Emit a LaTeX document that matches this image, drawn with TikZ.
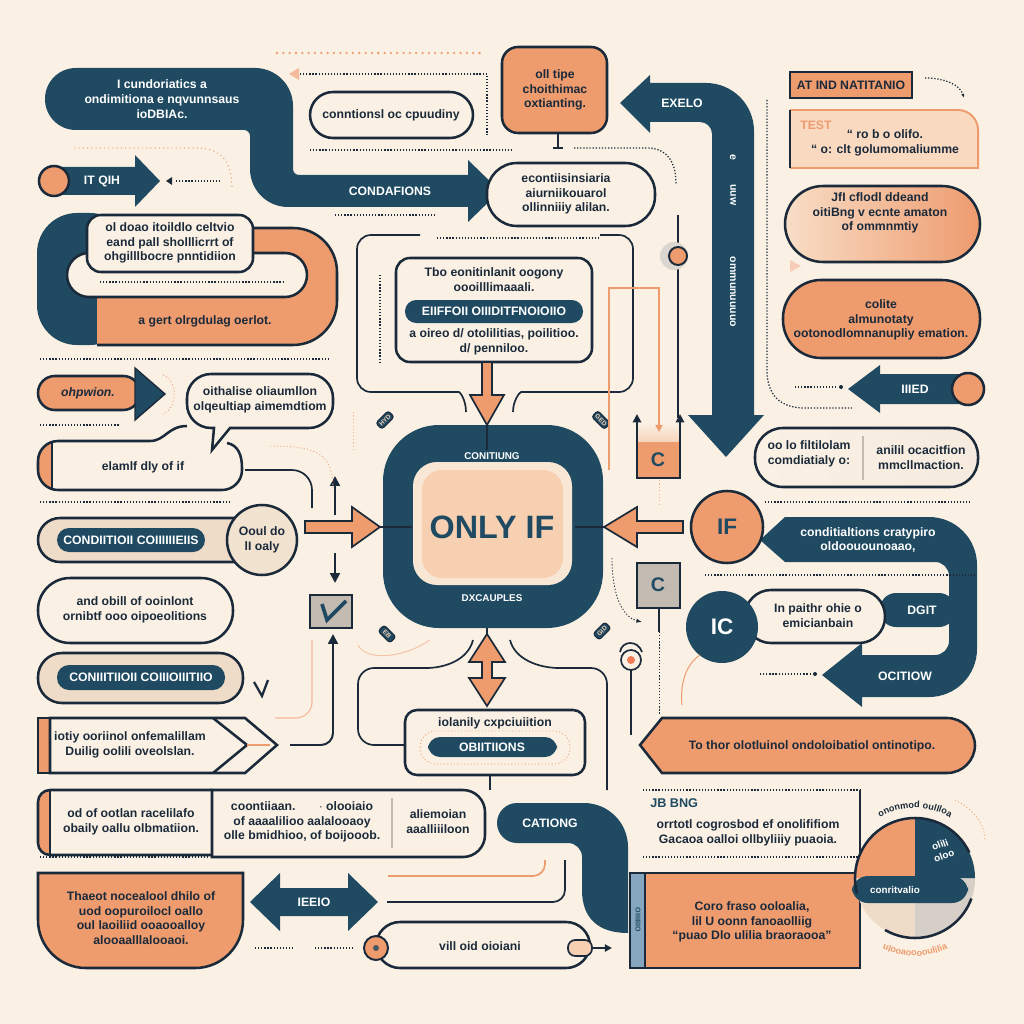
\documentclass[tikz,border=0pt]{standalone}
\usepackage{fontspec}
\setmainfont{Liberation Sans}
\usepackage{xcolor}
\definecolor{colCream}{HTML}{FAF1E4}
\definecolor{colNavy}{HTML}{1F4A62}
\definecolor{colInk}{HTML}{1B2A3A}
\definecolor{colOrange}{HTML}{EE9B6E}
\definecolor{colPeach}{HTML}{F7D0B2}
\definecolor{colTan}{HTML}{EFDCC8}
\definecolor{colGreige}{HTML}{C3BBB1}
\definecolor{colSteel}{HTML}{86A6C0}
\usepackage{tikz}
\usetikzlibrary{arrows.meta, decorations.text}

\begin{document}
\begin{tikzpicture}[
		x=0.025cm, y=-0.025cm,
		txt/.style={font=\fontsize{8.7}{10.5}\selectfont\bfseries, text=colInk, align=center, inner sep=0pt},
		wtxt/.style={txt, text=white},
		ol/.style={draw=colInk, line width=1.8pt},
		thinline/.style={draw=colInk, line width=1.2pt},
		dots/.style={colInk, line width=0.9pt, dash pattern=on 0.9pt off 1.3pt},
		odots/.style={colOrange, line width=1.8pt, line cap=round, dash pattern=on 0pt off 4.5pt},
		fdots/.style={colOrange!80, line width=0.7pt, dash pattern=on 0.8pt off 1.6pt},
		badge/.style={fill=colNavy, draw=colInk, line width=0.8pt, rounded corners=2pt, text=colPeach, font=\fontsize{4.5}{5}\selectfont\bfseries, inner sep=1.5pt, minimum width=0.42cm},
		>=Triangle
	]
		\useasboundingbox (0,0) rectangle (1024,1024);
		\fill[colCream] (0,0) rectangle (1024,1024);

		% ===== TOP LEFT: bent navy arrow =====
		\draw[odots] (277,53) -- (482,53);
		\draw[dots] (300,74) -- (487,74) -- (487,135);
		\fill[colOrange!70] (289,74) -- (299,68) -- (299,80) -- cycle;
		\fill[colNavy] (150,68) [rounded corners=0.95cm] -- (293,68) [rounded corners=0.15cm] -- (293,175) [sharp corners] -- (468,175) -- (468,160) -- (500,191) -- (468,222) -- (468,207) [rounded corners=0.95cm] -- (250,207) [rounded corners=0.15cm] -- (250,130) [rounded corners=0.77cm] -- (45,130) -- (45,68) -- cycle;
		\node[wtxt] (tlText) at (162,99) {I cundoriatics a\\ondimitiona e nqvunnsaus\\ioDBIAc.};
		\node[wtxt] (condLbl) at (390,191) {CONDAFIONS};
		\draw[dots] (335,215) -- (435,215);

		\filldraw[ol, fill=colCream, rounded corners=0.575cm] (310,92) rectangle (473,138);
		\node[txt] (cpPill) at (391,115) {conntionsl oc cpuudiny};
		\draw[dots] (310,150) -- (512,150);

		% small arrow with circle
		\fill[colNavy] (54,167) -- (135,167) -- (135,155) -- (160,181) -- (135,207) -- (135,195) -- (54,195) -- cycle;
		\filldraw[ol, fill=colOrange] (54,181) circle (15);
		\node[wtxt] (itLbl) at (102,181) {IT QIH};
		\fill[colInk] (166,181) -- (172,177) -- (172,185) -- cycle;
		\draw[dots] (176,181) -- (220,181);
		\draw[odots, line width=1pt, dash pattern=on 0pt off 3pt] (75,148) -- (200,148) .. controls (225,150) and (232,165) .. (232,190);

		% U-turn navy/orange
		\fill[colNavy, rounded corners=1cm] (37,213) rectangle (130,345);
		\fill[colOrange] (200,345) -- (97,345) -- (97,228) [rounded corners=1.1cm] -- (337,228) -- (337,345) [sharp corners] -- cycle;
		\draw[ol] (250,228) [rounded corners=1.1cm] -- (337,228) -- (337,345) [sharp corners] -- (97,345);
		\filldraw[ol, fill=colCream, rounded corners=0.55cm] (67,253) rectangle (307,297);
		\filldraw[ol, fill=colCream, rounded corners=0.35cm] (87,215) rectangle (253,272);
		\node[txt] (uText) at (170,243) {ol doao itoildlo celtvio\\eand pall sholllicrrt of\\ohgilllbocre pnntidiion};
		\draw[dots] (100,282) -- (283,282);
		\node[txt] (uOrange) at (205,321) {a gert olrgdulag oerlot.};
		\draw[dots] (40,359) -- (330,359);

		% ===== TOP CENTRE =====
		\filldraw[ol, fill=colOrange, rounded corners=0.4cm] (502,47) rectangle (607,133);
		\node[txt] (oTop) at (555,90) {oll tipe\\choithimac\\oxtianting.};
		\draw[thinline] (558,133) -- (558,148);
		\draw[thinline] (553,148) -- (563,148);
		\filldraw[ol, fill=colCream, rounded corners=0.75cm] (487,163) rectangle (655,226);
		\node[txt] (cPill) at (566,194) {econtiisinsiaria\\aiurniikouarol\\ollinniiiy alilan.};
		\draw[dots] (574,148) -- (650,148) .. controls (668,150) and (676,162) .. (676,185);

		% frame round the condition box
		\draw[thinline, rounded corners=0.35cm] (420,235) -- (357,235) -- (357,392) -- (445,392) .. controls (460,392) and (466,400) .. (466,412);
		\draw[thinline, rounded corners=0.35cm] (600,235) -- (633,235) -- (633,392) -- (535,392) .. controls (520,392) and (513,400) .. (513,412);
		\draw[dots] (437,238) -- (600,238);
		\draw[dots] (380,275) -- (380,362);
		\filldraw[ol, fill=colCream, rounded corners=0.35cm] (396,258) rectangle (592,362);
		\node[txt] (cbHead) at (494,280) {Tbo eonitinlanit oogony\\oooilllimaaali.};
		\fill[colNavy, rounded corners=0.28cm] (405,300) rectangle (583,323);
		\node[wtxt] (cbPill) at (494,311) {EIIFFOII OIIIDITFNOIOIIO};
		\node[txt] (cbFoot) at (494,342) {a oireo d/ otolilitias, poilitioo.\\d/ penniloo.};

		% ===== CENTRE =====
		\fill[colNavy, rounded corners=1.4cm] (383,425) rectangle (603,628);
		\fill[colCream!70!colPeach, rounded corners=0.6cm] (413,462) rectangle (572,585);
		\fill[colPeach, rounded corners=0.5cm] (422,470) rectangle (563,578);
		\node[font=\fontsize{23}{24}\selectfont\bfseries, text=colNavy] (onlyIf) at (492,527) {ONLY IF};
		\node[wtxt, font=\fontsize{7}{8}\selectfont\bfseries] (ctrTop) at (492,456) {CONITIUNG};
		\node[wtxt, font=\fontsize{7}{8}\selectfont\bfseries] (ctrBot) at (492,598) {DXCAUPLES};
		\node[badge, rotate=45] (bdA) at (385,420) {HYD};
		\node[badge, rotate=-45] (bdB) at (601,420) {GED};
		\node[badge, rotate=-45] (bdC) at (387,634) {EB};
		\node[badge, rotate=45] (bdD) at (602,631) {GID};

		% orange arrows into the centre
		\draw[ol, line width=1.2pt] (487,425) -- (487,450);
		\filldraw[draw=colInk, line width=1.2pt, fill=colOrange] (482,362) -- (492,362) -- (492,395) -- (504,395) -- (487,425) -- (470,395) -- (482,395) -- cycle;
		\draw[ol, line width=1.2pt] (380,527) -- (412,527);
		\filldraw[draw=colInk, line width=1.2pt, fill=colOrange] (305,521) -- (352,521) -- (352,507) -- (380,527) -- (352,547) -- (352,533) -- (305,533) -- cycle;
		\draw[ol, line width=1.2pt] (575,527) -- (604,527);
		\filldraw[draw=colInk, line width=1.2pt, fill=colOrange] (683,521) -- (637,521) -- (637,507) -- (604,527) -- (637,547) -- (637,533) -- (683,533) -- cycle;
		\draw[ol, line width=1.2pt] (487,628) -- (487,636);
		\filldraw[draw=colInk, line width=1.2pt, fill=colOrange] (487,634) -- (505,662) -- (492,662) -- (492,678) -- (505,678) -- (487,706) -- (469,678) -- (482,678) -- (482,662) -- (469,662) -- cycle;

		% small arrows and check box
		\draw[thinline, line width=1.4pt, -{Triangle[length=7pt, width=7pt]}] (335,515) -- (335,476);
		\draw[thinline, line width=1.4pt, -{Triangle[length=7pt, width=7pt]}] (335,553) -- (335,583);
		\filldraw[draw=colInk, line width=1.2pt, fill=colGreige] (310,595) rectangle (352,628);
		\draw[colNavy, line width=2.6pt] (322,604) -- (327,620) -- (346,601);
		\draw[thinline, line width=1.4pt, rounded corners=0.3cm, -{Triangle[length=7pt, width=7pt]}] (290,745) -- (333,745) -- (333,634);
		\draw[thinline, rounded corners=0.5cm] (245,470) -- (312,470) -- (312,508);
		\draw[fdots] (353,412) -- (353,452);
		\draw[fdots] (270,446) .. controls (320,446) and (333,455) .. (333,490);
		\draw[colOrange!70, line width=0.8pt, rounded corners=0.4cm] (312,640) -- (312,718) -- (275,718);
		\draw[colOrange!60, line width=0.7pt] (358,645) .. controls (365,660) and (400,660) .. (430,640);

		% lower centre box
		\draw[thinline, rounded corners=0.4cm] (473,640) .. controls (468,660) and (445,668) .. (410,668) -- (358,668) -- (358,745) -- (405,745);
		\draw[thinline, rounded corners=0.4cm] (510,640) .. controls (515,660) and (540,668) .. (575,668) -- (607,668) -- (607,790);
		\filldraw[ol, fill=colCream, rounded corners=0.3cm] (405,710) rectangle (585,775);
		\node[txt] (lcHead) at (495,723) {iolanily cxpciuiition};
		\draw[fdots, rounded corners=0.4cm] (420,731) rectangle (570,764);
		\fill[colNavy, rounded corners=0.3cm] (428,737) rectangle (557,757);
		\node[wtxt] (lcPill) at (492,747) {OBIITIIONS};
		\draw[thinline] (490,775) -- (490,790);

		% ===== RIGHT COLUMN, TOP =====
		\fill[colNavy] (680,83) [rounded corners=1.2cm] -- (754,83) [sharp corners] -- (754,415) -- (764,415) -- (726,457) -- (688,415) -- (712,415) [rounded corners=0.3cm] -- (712,122) [sharp corners] -- (650,122) -- (650,133) -- (620,103) -- (650,75) -- (650,83) -- cycle;
		\node[wtxt] (upLbl) at (682,103) {EXELO};
		\node[wtxt, rotate=-90, font=\fontsize{7.5}{8}\selectfont\bfseries] (upA) at (733,157) {e};
		\node[wtxt, rotate=-90, font=\fontsize{7.5}{8}\selectfont\bfseries] (upB) at (733,195) {uuw};
		\node[wtxt, rotate=-90, font=\fontsize{7.5}{8}\selectfont\bfseries] (upC) at (733,292) {ommunuuuuo};
		\draw[dots] (767,100) -- (767,370) .. controls (767,395) and (780,408) .. (805,408) -- (852,408);

		\draw[thinline] (678,215) -- (678,418);
		\fill[colGreige!60] (674,256) circle (14);
		\filldraw[draw=colInk, line width=1.4pt, fill=colOrange] (678,256) circle (9);
		\draw[colOrange, line width=1pt] (609,470) -- (609,288) -- (659,288) -- (659,400);

		\filldraw[ol, fill=colOrange] (790,72) rectangle (912,98);
		\node[txt] (atLbl) at (851,85) {AT IND NATITANIO};
		\draw[dots, -{Latex[length=3pt]}] (925,78) .. controls (945,78) and (960,85) .. (964,98);

		\fill[colPeach!80] (790,110) [rounded corners=0.5cm] -- (978,110) [sharp corners] -- (978,168) -- (790,168) -- cycle;
		\draw[colOrange, line width=1.4pt] (790,110) [rounded corners=0.5cm] -- (978,110) [sharp corners] -- (978,168) -- (790,168);
		\draw[ol] (790,110) -- (790,168);
		\node[txt, text=colOrange, anchor=west] (testLbl) at (800,125) {TEST};
		\node[txt] (testText) at (885,143) {“ ro b o olifo.\\“ o: clt golumomaliumme};

		\shade[left color=colPeach!60!colCream, right color=colOrange, rounded corners=0.95cm] (785,186) rectangle (980,262);
		\draw[ol, rounded corners=0.95cm] (785,186) rectangle (980,262);
		\node[txt] (jfText) at (880,213) {JfI cflodl ddeand\\oitiBng v ecnte amaton\\of ommnmtiy};
		\fill[colOrange!50] (790,260) -- (801,266) -- (790,272) -- cycle;
		\filldraw[ol, fill=colOrange, rounded corners=0.95cm] (783,280) rectangle (980,358);
		\node[txt] (coText) at (881,320) {colite\\almunotaty\\ootonodlomnanupliy emation.};

		\fill[colNavy] (848,389) -- (880,365) -- (880,374) -- (962,374) -- (962,404) -- (880,404) -- (880,413) -- cycle;
		\filldraw[ol, fill=colOrange] (968,389) circle (16);
		\node[wtxt] (iiLbl) at (915,389) {IIIED};
		\draw[dots] (795,387) -- (838,387);
		\fill[colInk] (841,387) circle (2);

		\shade[left color=colCream, right color=colTan!60, rounded corners=0.7cm] (755,428) rectangle (978,487);
		\draw[ol, rounded corners=0.7cm] (755,428) rectangle (978,487);
		\draw[colGreige, line width=1pt] (863,436) -- (863,480);
		\node[txt] (ooL) at (809,454) {oo lo filtilolam\\comdiatialy o:};
		\node[txt] (ooR) at (921,458) {anilil ocacitfion\\mmcllmaction.};
		\draw[dots] (765,502) -- (972,502);

		% C boxes
		\shade[top color=colCream, bottom color=colOrange] (637,423) rectangle (680,478);
		\fill[colOrange] (637,442) rectangle (680,478);
		\draw[ol, line width=1.4pt, {Triangle[length=6pt, width=6pt]}-{Triangle[length=6pt, width=6pt]}] (637,414) -- (637,478) -- (680,478) -- (680,414);
		\draw[colOrange, line width=1pt, -{Triangle[length=5pt, width=5pt]}] (659,400) -- (659,432);
		\node[txt, font=\fontsize{14}{14}\selectfont\bfseries, text=colNavy] (cTop) at (658,460) {C};
		\draw[fdots] (659,480) -- (659,505);
		\filldraw[draw=colInk, line width=1.2pt, fill=colGreige] (637,563) rectangle (680,608);
		\node[txt, font=\fontsize{14}{14}\selectfont\bfseries, text=colNavy] (cBot) at (658,585) {C};
		\draw[thinline] (659,608) -- (659,632);
		\draw[dots, line width=0.6pt] (659,632) -- (659,715);
		\draw[dots, line width=0.6pt, -{Latex[length=4pt]}] (612,558) .. controls (612,600) and (625,618) .. (642,622);
		\draw[thinline] (620,652) .. controls (622,640) and (638,640) .. (642,652);
		\filldraw[draw=colInk, line width=1.2pt, fill=colCream] (631,660) circle (10);
		\fill[colOrange!80!red] (631,660) circle (4);

		% ===== RIGHT COLUMN, IF / IC loop =====
		\fill[colNavy] (850,517) [rounded corners=1.2cm] -- (977,517) -- (977,697) [sharp corners] -- (862,697) -- (862,707) -- (822,675) -- (862,643) -- (862,655) [rounded corners=0.35cm] -- (949,655) -- (949,562) [sharp corners] -- (785,562) -- (760,540) -- (785,517) -- cycle;
		\node[wtxt] (ifLoopTxt) at (868,540) {conditialtions cratypiro\\oldoouounoaao,};
		\node[wtxt] (ocLbl) at (905,676) {OCITIOW};
		\fill[colNavy, rounded corners=0.4cm] (880,593) rectangle (955,627);
		\node[wtxt] (dgLbl) at (922,610) {DGIT};
		\filldraw[ol, fill=colCream, rounded corners=0.65cm] (745,590) rectangle (885,643);
		\node[txt] (ipText) at (818,616) {In paithr ohie o\\emicianbain};
		\filldraw[ol, fill=colOrange] (727,527) circle (36);
		\node[txt, font=\fontsize{16}{16}\selectfont\bfseries, text=colNavy] (ifLbl) at (727,527) {IF};
		\fill[colNavy] (722,627) circle (36);
		\node[wtxt, font=\fontsize{16}{16}\selectfont\bfseries] (icLbl) at (722,627) {IC};
		\draw[dots] (705,575) -- (975,575);
		\draw[dots] (760,674) -- (812,674);
		\fill[colInk] (815,674) circle (2);
		\draw[colOrange, line width=0.7pt] (700,655) .. controls (685,665) and (680,685) .. (682,705);

		% wide orange pointer
		\draw[thinline] (631,670) -- (631,735);
		\filldraw[ol, fill=colOrange] (700,718) [rounded corners=0.7cm] -- (975,718) -- (975,773) [sharp corners] -- (662,773) -- (640,745) -- (662,718) -- cycle;
		\node[txt] (toText) at (812,746) {To thor olotluinol ondoloibatiol ontinotipo.};

		% ===== BOTTOM RIGHT =====
		\draw[dots] (643,790) -- (860,790);
		\draw[dots] (643,857) -- (860,857);
		\draw[ol, line width=1.4pt] (860,790) -- (860,857);
		\node[txt, anchor=west, font=\fontsize{9}{10}\selectfont\bfseries, text=colNavy] (jbLbl) at (650,803) {JB BNG};
		\node[txt] (jbText) at (748,833) {orrtotl cogrosbod ef onolififiom\\Gacaoa oalloi ollbyliiiy puaoia.};

		\fill[colNavy] (540,803) [rounded corners=1.1cm] -- (628,803) [sharp corners] -- (628,933) .. controls (598,933) and (582,918) .. (582,890) [rounded corners=0.35cm] -- (582,843) [rounded corners=0.5cm] -- (497,843) -- (497,803) [sharp corners] -- cycle;
		\node[wtxt] (catLbl) at (550,823) {CATIONG};
		\filldraw[ol, fill=colOrange] (630,873) rectangle (860,968);
		\filldraw[draw=colInk, line width=1.2pt, fill=colSteel] (630,873) rectangle (645,968);
		\node[wtxt, rotate=-90, font=\fontsize{5}{5}\selectfont\bfseries, text=colNavy] (stripTxt) at (638,920) {OIIIIIIIO};
		\node[txt] (coroText) at (752,922) {Coro fraso ooloalia,\\lil U oonn fanoaolliig\\“puao Dlo ulilia braoraooa”};

		% pie
		\fill[colTan] (915,878) circle (60);
		\fill[colGreige!70] (915,878) -- (975,878) arc[start angle=0, end angle=90, radius=60] -- cycle;
		\fill[colOrange] (915,878) -- (855,878) arc[start angle=180, end angle=270, radius=60] -- cycle;
		\fill[colNavy] (915,878) -- (915,818) arc[start angle=270, end angle=360, radius=60] -- cycle;
		\fill[colNavy, rounded corners=0.4cm] (852,876) rectangle (968,903);
		\draw[ol] (915,878) ++(165:60) arc[start angle=165, end angle=335, radius=60];
		\draw[ol] (915,878) ++(20:60) arc[start angle=20, end angle=120, radius=60];
		\node[wtxt, rotate=20, font=\fontsize{7}{8}\selectfont\bfseries] (pieNavy) at (942,850) {olili\\oloo};
		\node[wtxt, font=\fontsize{7}{8}\selectfont\bfseries] (pieBand) at (895,890) {conritvalio};
		\path[decorate, decoration={text along path, text align=center, text={|\fontsize{6.5}{7}\selectfont\bfseries\color{colInk}|ononmod oullloa}}] (915,878) ++(218:70) arc[start angle=218, end angle=322, radius=70];
		\path[decorate, decoration={text along path, text align=center, text={|\fontsize{6.5}{7}\selectfont\bfseries\color{colOrange}|ulooaooooulilia}}] (915,878) ++(135:78) arc[start angle=135, end angle=45, radius=78];
		\draw[fdots] (955,800) .. controls (975,810) and (985,825) .. (985,840);

		% ===== LEFT COLUMN, MIDDLE =====
		\filldraw[ol, fill=colOrange, rounded corners=0.42cm] (38,376) rectangle (140,410);
		\filldraw[draw=colInk, line width=1pt, fill=colNavy] (135,368) -- (165,394) -- (135,420) -- cycle;
		\node[txt, font=\fontsize{8.7}{10}\selectfont\bfseries\itshape] (ohLbl) at (88,393) {ohpwion.};
		\draw[fdots] (163,375) .. controls (178,380) and (178,408) .. (163,414);
		\draw[dots] (40,425) -- (120,425);

		% box under the bubble
		\fill[colCream] (227,443) .. controls (238,445) and (242,455) .. (242,468) [rounded corners=0.5cm] -- (242,490) -- (38,490) -- (38,441) [sharp corners] -- (150,441) .. controls (165,441) and (168,426) .. (187,426) -- cycle;
		\fill[colOrange, rounded corners=0.5cm] (38,441) rectangle (70,490);
		\fill[colCream] (52,441) rectangle (72,490);
		\draw[ol] (227,443) .. controls (238,445) and (242,455) .. (242,468) [rounded corners=0.5cm] -- (242,490) -- (38,490) -- (38,441) [sharp corners] -- (150,441) .. controls (165,441) and (168,426) .. (187,426);
		\draw[ol] (52,441) -- (52,490);
		\node[txt] (elText) at (143,467) {elamlf dly of if};

		\filldraw[ol, fill=colCream] (260,374) [rounded corners=0.6cm] -- (333,374) -- (333,428) [sharp corners] -- (230,428) -- (212,450) -- (214,428) [rounded corners=0.6cm] -- (187,428) -- (187,374) -- cycle;
		\node[txt] (bubText) at (260,400) {oithalise oliaumllon\\olqeultiap aimemdtiom};
		\draw[dots] (40,502) -- (230,502);

		\filldraw[ol, fill=colTan, rounded corners=0.55cm] (38,518) rectangle (268,562);
		\fill[colNavy, rounded corners=0.3cm] (57,528) rectangle (205,552);
		\node[wtxt] (cdPillA) at (131,540) {CONDIITIOII COIIIIIIEIIS};
		\filldraw[ol, fill=colTan!70!colCream] (262,540) circle (35);
		\node[txt] (oodText) at (262,540) {Ooul do\\lI oaly};

		\filldraw[ol, fill=colCream, rounded corners=0.8cm] (38,578) rectangle (233,643);
		\node[txt] (anText) at (135,610) {and obill of ooinlont\\ornibtf ooo oipoeolitions};

		\filldraw[ol, fill=colTan, rounded corners=0.6cm] (38,653) rectangle (243,703);
		\fill[colNavy, rounded corners=0.3cm] (57,665) rectangle (225,690);
		\node[wtxt] (cdPillB) at (141,677) {CONIIITIIOII COIIIOIIITIIO};
		\draw[ol, line width=1.6pt] (254,682) -- (262,696) -- (268,680);

		% pointed box
		\fill[colOrange] (38,718) rectangle (50,773);
		\filldraw[ol, fill=colCream] (50,718) -- (245,718) -- (277,745) -- (245,773) -- (50,773) -- cycle;
		\draw[ol] (50,718) -- (38,718) -- (38,773) -- (50,773);
		\draw[ol] (213,718) -- (247,745) -- (213,773);
		\draw[colOrange, line width=1.2pt] (247,745) -- (270,745);
		\node[txt] (ptText) at (130,745) {iotiy ooriinol onfemalillam\\Duilig oolili oveolslan.};

		% long row box
		\fill[colOrange, rounded corners=0.3cm] (38,790) rectangle (60,855);
		\fill[colCream] (50,790) rectangle (212,855);
		\draw[ol, rounded corners=0.3cm] (212,790) -- (38,790) -- (38,855) -- (212,855);
		\draw[ol] (50,790) -- (50,855);
		\filldraw[ol, fill=colCream] (212,790) [rounded corners=0.55cm] -- (485,790) -- (485,857) [sharp corners] -- (212,857) -- cycle;
		\draw[colGreige, line width=1pt] (392,798) -- (392,848);
		\node[txt] (odText) at (131,822) {od of ootlan racelilafo\\obaily oallu olbmatiion.};
		\node[txt] (coText2) at (302,822) {coontiiaan. \quad\ \ $\cdot$ olooiaio\\of aaaalilioo aalalooaoy\\olle bmidhioo, of boijooob.};
		\node[txt] (alText) at (438,822) {aliemoian\\aaalliiiloon};
		\draw[dots] (40,857) -- (210,857);

		% ===== BOTTOM LEFT =====
		\filldraw[ol, fill=colOrange] (140,873) -- (243,873) [rounded corners=1.2cm] -- (243,968) -- (38,968) [sharp corners] -- (38,873) -- cycle;
		\node[txt] (thText) at (141,918) {Thaeot nocealool dhilo of\\uod oopuroilocl oallo\\oul laoiliid ooaooalloy\\alooaalllalooaoi.};

		\fill[colNavy] (250,902) -- (280,873) -- (280,888) -- (348,888) -- (348,873) -- (378,902) -- (348,931) -- (348,916) -- (280,916) -- (280,931) -- cycle;
		\node[wtxt] (ieLbl) at (314,902) {IEEIO};
		\draw[thinline, rounded corners=0.3cm] (387,902) -- (565,902) -- (565,860);
		\draw[colOrange, line width=1.2pt, rounded corners=0.3cm] (388,876) -- (545,876) -- (545,860);

		\draw[dots] (255,948) -- (295,948);
		\draw[dots] (315,948) -- (355,948);
		\filldraw[ol, fill=colCream, rounded corners=0.6cm] (376,922) rectangle (590,968);
		\filldraw[draw=colInk, line width=1.4pt, fill=colOrange] (376,948) circle (12);
		\fill[colInk!80] (376,948) circle (3);
		\node[txt] (viText) at (480,946) {vill oid oioiani};
		\filldraw[draw=colInk, line width=1.2pt, fill=colPeach, rounded corners=0.18cm] (568,940) rectangle (592,956);
		\draw[thinline, -{Triangle[length=5pt, width=5pt]}] (592,948) -- (612,948);
	\end{tikzpicture}
\end{document}
